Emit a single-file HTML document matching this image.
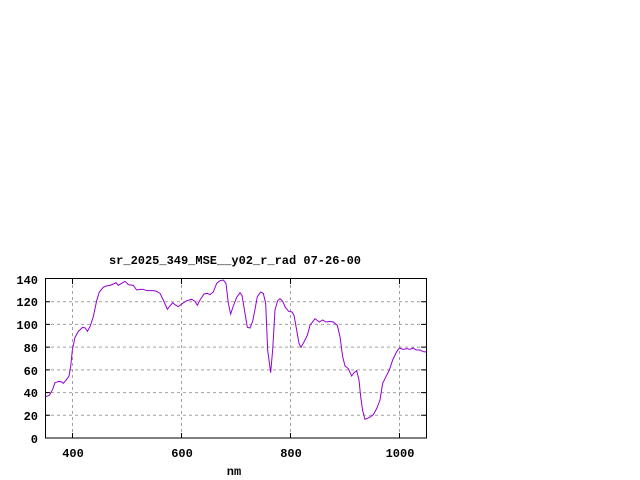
<!DOCTYPE html>
<html><head><style>body{margin:0;background:#fff}svg{display:block}text{font-family:"Liberation Mono",monospace;font-size:12px;font-weight:bold;fill:#000}</style></head><body>
<svg width="640" height="480" xmlns="http://www.w3.org/2000/svg">
<rect width="640" height="480" fill="#fff"/>
<text x="235" y="264" text-anchor="middle">sr_2025_349_MSE__y02_r_rad 07-26-00</text>
<g stroke="#a0a0a0" stroke-width="1" stroke-dasharray="3,3">
<line x1="45" x2="426" y1="415.3" y2="415.3"/><line x1="45" x2="426" y1="392.6" y2="392.6"/><line x1="45" x2="426" y1="369.9" y2="369.9"/><line x1="45" x2="426" y1="347.1" y2="347.1"/><line x1="45" x2="426" y1="324.4" y2="324.4"/><line x1="45" x2="426" y1="301.7" y2="301.7"/>
<line x1="72.5" x2="72.5" y1="279" y2="438"/><line x1="181.5" x2="181.5" y1="279" y2="438"/><line x1="290.5" x2="290.5" y1="279" y2="438"/><line x1="399.5" x2="399.5" y1="279" y2="438"/>
</g>
<g stroke="#000" stroke-width="1">
<path d="M45,415.3h5M45,392.6h5M45,369.9h5M45,347.1h5M45,324.4h5M45,301.7h5M426,415.3h-5M426,392.6h-5M426,369.9h-5M426,347.1h-5M426,324.4h-5M426,301.7h-5M72.5,438v-5M181.5,438v-5M290.5,438v-5M399.5,438v-5M72.5,279v5M181.5,279v5M290.5,279v5M399.5,279v5"/>
<rect x="45.5" y="278.5" width="381" height="159.5" fill="none"/>
</g>
<g font-size="12">
<text x="38" y="443" text-anchor="end">0</text><text x="38" y="420" text-anchor="end">20</text><text x="38" y="397" text-anchor="end">40</text><text x="38" y="375" text-anchor="end">60</text><text x="38" y="352" text-anchor="end">80</text><text x="38" y="329" text-anchor="end">100</text><text x="38" y="306" text-anchor="end">120</text><text x="38" y="284" text-anchor="end">140</text>
<text x="73" y="457" text-anchor="middle">400</text><text x="182" y="457" text-anchor="middle">600</text><text x="291" y="457" text-anchor="middle">800</text><text x="400" y="457" text-anchor="middle">1000</text>
<text x="234" y="475" text-anchor="middle">nm</text>
</g>
<g transform="translate(0,250) scale(0.33333)">
<polyline fill="none" stroke="#9400d3" stroke-width="3" points="137,440 148,436 158,418 165,398 178,394 185,396 190,400 197,392 207,378 212,350 217,300 225,262 235,244 248,232 256,234 262,244 270,230 280,200 290,152 298,126 310,112 318,108 330,106 340,102 348,98 355,106 365,100 375,94 385,104 400,106 410,120 420,118 430,118 440,122 460,122 470,124 480,130 490,150 502,178 510,168 518,158 525,164 535,170 545,162 560,152 575,148 585,154 592,166 600,150 612,132 622,130 630,134 640,126 650,100 660,92 670,90 678,100 685,160 692,192 700,168 710,142 720,128 726,136 735,190 742,232 750,234 758,214 765,178 772,140 782,126 790,130 797,160 803,300 812,368 818,300 825,180 833,152 840,146 848,154 856,172 866,184 876,186 882,196 890,240 897,280 903,292 912,276 922,256 930,226 945,206 958,216 968,210 978,216 990,214 1000,216 1012,226 1020,260 1028,320 1035,348 1045,356 1055,378 1062,368 1070,362 1077,390 1082,440 1088,482 1095,508 1102,505 1112,500 1120,494 1130,476 1140,450 1148,400 1158,380 1168,360 1178,330 1190,305 1198,294 1210,298 1220,296 1230,298 1240,294 1248,300 1260,300 1270,305 1279,306"/>
</g>
</svg>
</body></html>
